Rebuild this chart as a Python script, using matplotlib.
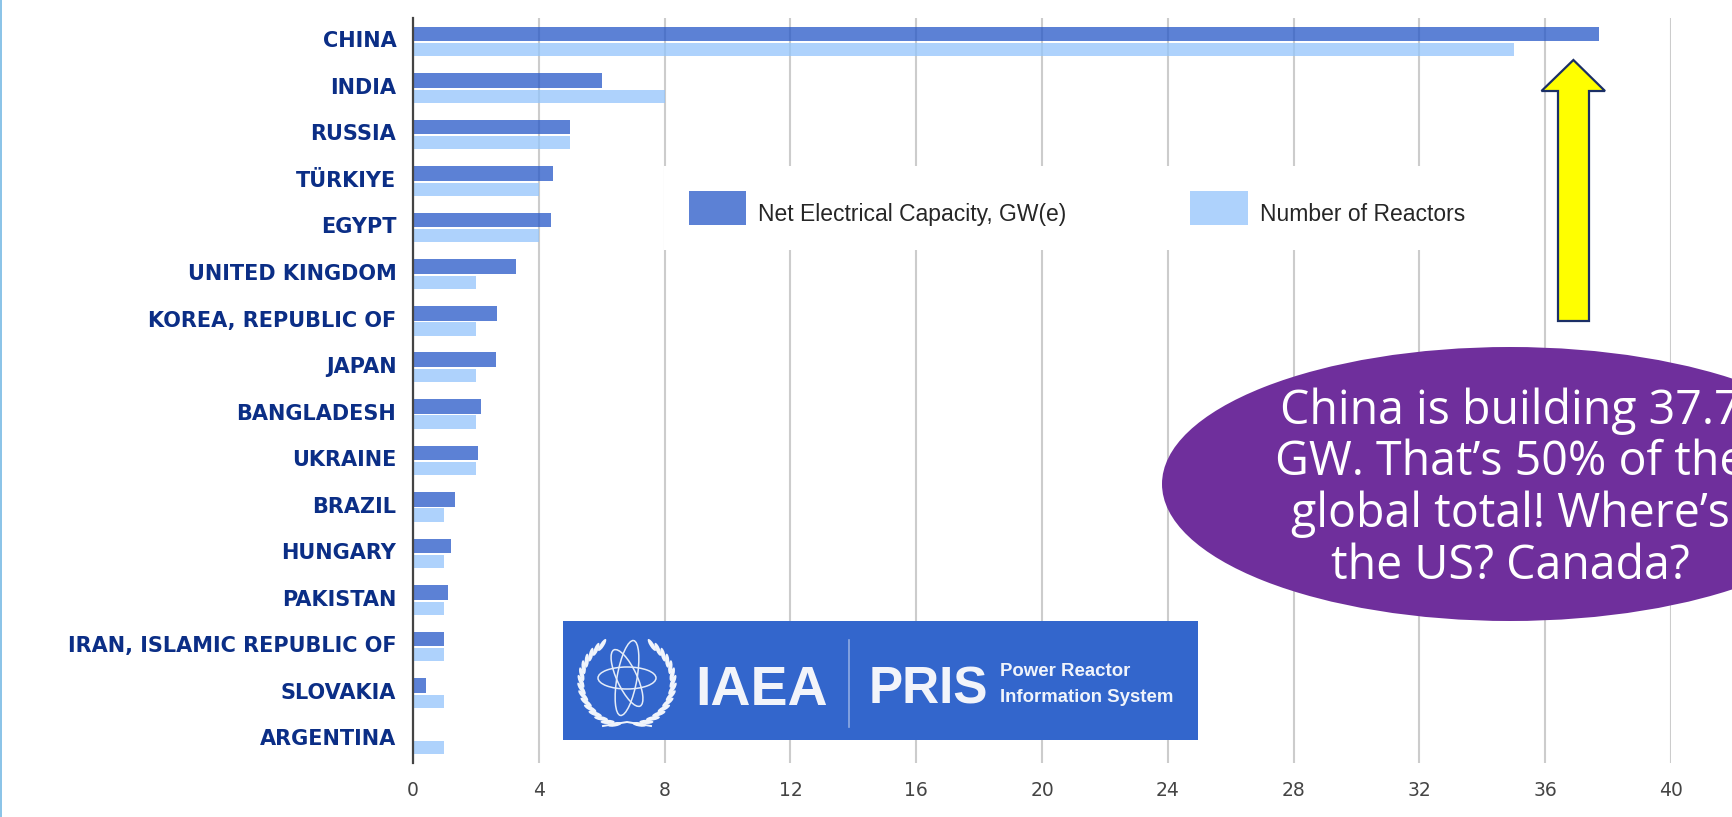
# -*- coding: utf-8 -*-
import matplotlib
matplotlib.use('Agg')
import matplotlib.pyplot as plt
import matplotlib.patches as mpatches
import matplotlib.transforms as mtrans
import numpy as np

countries = ['CHINA', 'INDIA', 'RUSSIA', 'TÜRKIYE', 'EGYPT', 'UNITED KINGDOM', 'KOREA, REPUBLIC OF', 'JAPAN',
             'BANGLADESH', 'UKRAINE', 'BRAZIL', 'HUNGARY', 'PAKISTAN', 'IRAN, ISLAMIC REPUBLIC OF', 'SLOVAKIA', 'ARGENTINA']
capacity = [37.7, 6.0, 5.0, 4.45, 4.4, 3.26, 2.68, 2.65, 2.16, 2.07, 1.34, 1.2, 1.1, 0.97, 0.4, 0.03]
reactors = [35, 8, 5, 4, 4, 2, 2, 2, 2, 2, 1, 1, 1, 1, 1, 1]
x_ticks = [0, 4, 8, 12, 16, 20, 24, 28, 32, 36, 40]
callout_lines = ['China is building 37.7', 'GW. That’s 50% of the', 'global total! Where’s', 'the US? Canada?']

W, H = 1732, 817
fig = plt.figure(figsize=(W / 100, H / 100), dpi=100, facecolor='white')

# chart area, placed by pixels
ax = fig.add_axes([413 / W, 1 - 762.7 / H, (1671 - 413) / W, (762.7 - 18) / H])
ind = np.arange(len(countries))
ax.barh(ind - 0.157, capacity, 0.314, color='#2557C7', alpha=0.75, lw=0, zorder=2, label='Net Electrical Capacity, GW(e)')
ax.barh(ind + 0.18, reactors, 0.286, color='#93C4FB', alpha=0.75, lw=0, zorder=2, label='Number of Reactors')
ax.set_xlim(0, 40)
ax.set_ylim(len(countries) - 0.5, -0.5)
ax.set_xticks(x_ticks)
ax.set_yticks(ind)
ax.set_yticklabels(countries, fontfamily='DejaVu Sans', fontweight='bold', fontsize=15, color='#0B2E86')
ax.tick_params(axis='y', length=0, pad=12)
ax.tick_params(axis='x', length=0, pad=13, labelsize=13.5, labelcolor='#444444')
shift = mtrans.ScaledTranslation(0, 2 / 100, fig.dpi_scale_trans)
for lab in ax.get_yticklabels():
    lab.set_transform(lab.get_transform() + shift)
ax.set_axisbelow(True)
ax.grid(True, axis='x', color='#CCCCCC', linewidth=1.5, zorder=1)
for s in ['top', 'right', 'bottom']:
    ax.spines[s].set_visible(False)
ax.spines['left'].set_color('#444444')
ax.spines['left'].set_linewidth(1.6)
ax.spines['left'].set_zorder(4)

leg = ax.legend(loc='center', bbox_to_anchor=(1077 / W, 1 - 208 / H), bbox_transform=fig.transFigure, ncol=2,
                frameon=True, framealpha=1, facecolor='white', edgecolor='none', fancybox=False,
                prop={'family': 'Liberation Sans', 'size': 16.5}, labelcolor='#262626',
                handlelength=2.5, handleheight=1.9, handletextpad=0.52, columnspacing=5.4,
                borderpad=1.1, borderaxespad=0)
leg.set_zorder(5)
# legend text sits a little below the middle of the swatch in the original
for t in leg.get_texts():
    t.set_y(-5.5)

# overlay in pixel coordinates for the annotations
ov = fig.add_axes([0, 0, 1, 1], facecolor='none')
ov.set_xlim(0, W)
ov.set_ylim(H, 0)
ov.axis('off')

ov.add_patch(mpatches.Rectangle((0, 0), 1.5, H, color='#8CC4E8', lw=0))

# yellow arrow
arrow_x = [1573.4, 1605, 1589, 1589, 1558, 1558, 1541.5]
arrow_y = [60, 91, 91, 321, 321, 91, 91]
ov.add_patch(mpatches.Polygon(list(zip(arrow_x, arrow_y)), closed=True, facecolor='#FFFF00', edgecolor='#1B2F66', lw=1.6))

# callout
ov.add_patch(mpatches.Ellipse((1510, 484), 696, 274, facecolor='#6F2F9C', edgecolor='none'))
line_y = [411, 462, 514, 566]
for txt, y in zip(callout_lines, line_y):
    ov.text(1510, y, txt, color='white', family='Open Sans', fontsize=33.5, ha='center', va='center')

# IAEA PRIS logo
ov.add_patch(mpatches.Rectangle((563, 621), 635, 119, facecolor='#3366CC', edgecolor='none'))
ov.text(695, 691, 'IAEA', color='#F2F4FA', family='Liberation Sans', fontweight='bold', fontsize=40, ha='left', va='center')
ov.text(869, 690, 'PRIS', color='#F2F4FA', family='Liberation Sans', fontweight='bold', fontsize=37, ha='left', va='center')
ov.plot([849, 849], [640, 727], color='white', alpha=0.45, lw=1.2)
ov.text(1000.5, 672, 'Power Reactor', color='#F0F4FB', family='Liberation Sans', fontweight='bold', fontsize=13.4, ha='left', va='center')
ov.text(1000.5, 697, 'Information System', color='#F0F4FB', family='Liberation Sans', fontweight='bold', fontsize=13.4, ha='left', va='center')

# emblem: atom orbits and laurel
cx, cy = 627, 680
for w, h, ang in [(58, 22, 0), (62, 20, 65), (76, 20, 100)]:
    ov.add_patch(mpatches.Ellipse((cx, cy - 2), w, h, angle=ang, fill=False, edgecolor='#E4ECF8', lw=1.1))
for side in [-1, 1]:
    for t in np.linspace(-1.0, 1.3, 15):
        lx = cx + side * 46 * np.cos(t)
        ly = cy + 2 + 44 * np.sin(t)
        ang = np.degrees(t) + 90 + 25
        if side < 0:
            ang = -ang
        ov.add_patch(mpatches.Ellipse((lx, ly), 14, 4.2, angle=ang, facecolor='#F0F4FB', edgecolor='none'))
ov.plot([cx - 24, cx, cx + 24], [726, 722, 726], color='#F0F4FB', lw=1.4)

fig.savefig('out.png', dpi=100)
